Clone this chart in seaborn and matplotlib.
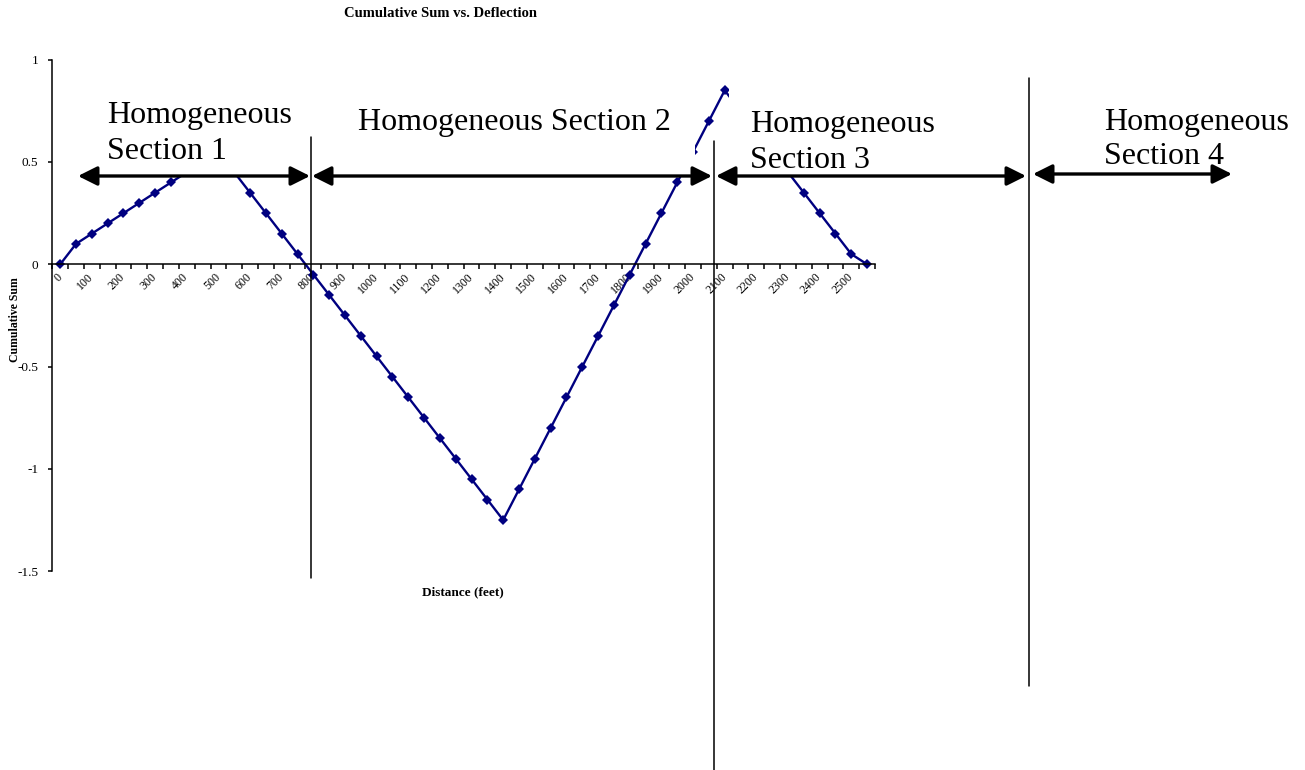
import matplotlib
matplotlib.use("Agg")
import matplotlib.pyplot as plt
import seaborn as sns
import pandas as pd
from matplotlib.patches import Rectangle, FancyArrowPatch
from matplotlib.lines import Line2D
from matplotlib.ticker import FixedLocator

# ==========================================
# DATA

distance = [0, 50, 100, 150, 200, 250, 300, 350, 400, 450,
            500, 550, 600, 650, 700, 750, 800, 850, 900, 950,
            1000, 1050, 1100, 1150, 1200, 1250, 1300, 1350, 1400, 1450,
            1500, 1550, 1600, 1650, 1700, 1750, 1800, 1850, 1900, 1950,
            2000, 2050, 2100, 2150, 2200, 2250, 2300, 2350, 2400, 2450,
            2500, 2550]

cusum = [0.0, 0.1, 0.15, 0.2, 0.25, 0.3, 0.35, 0.4, 0.45, 0.5,
         0.5, 0.45, 0.35, 0.25, 0.15, 0.05, -0.05, -0.15, -0.25, -0.35,
         -0.45, -0.55, -0.65, -0.75, -0.85, -0.95, -1.05, -1.15, -1.25, -1.1,
         -0.95, -0.8, -0.65, -0.5, -0.35, -0.2, -0.05, 0.1, 0.25, 0.4,
         0.55, 0.7, 0.85, 0.75, 0.65, 0.55, 0.45, 0.35, 0.25, 0.15,
         0.05, 0.0]

x_tick_labels = ["0", "100", "200", "300", "400", "500", "600", "700", "800",
                 "900", "1000", "1100", "1200", "1300", "1400", "1500", "1600",
                 "1700", "1800", "1900", "2000", "2100", "2200", "2300",
                 "2400", "2500"]
y_ticks = [-1.5, -1, -0.5, 0, 0.5, 1]
y_tick_labels = ["-1.5", "-1", "-0.5", "0", "0.5", "1"]

section_labels = [["Homogeneous", "Section 1"],
                  ["Homogeneous Section 2"],
                  ["Homogeneous", "Section 3"],
                  ["Homogeneous", "Section 4"]]

df = pd.DataFrame({"distance": distance, "cusum": cusum})

# ==========================================
# FIGURE

sns.set_style("ticks")
plt.rcParams['font.family'] = ['Liberation Serif', 'DejaVu Serif']
plt.rcParams['text.color'] = 'black'
plt.rcParams['xtick.color'] = 'black'
plt.rcParams['ytick.color'] = 'black'

W, H = 1305, 770
fig = plt.figure(figsize=(W / 100, H / 100), dpi=100)


def fx(x):
    return x / W


def fy(y):
    return 1 - y / H


ax = fig.add_axes([fx(52.3), fy(571.2), (875 - 52.3) / W, (571.2 - 59.7) / H])

sns.lineplot(
    data=df,
    x="distance",
    y="cusum",
    color="#000080",
    marker="D",
    markersize=5.2,
    markeredgewidth=0,
    linewidth=1.7,
    ax=ax
)

ax.set_xlim(-25, 2575)
ax.set_ylim(-1.5, 1)

ax.spines['top'].set_visible(False)
ax.spines['right'].set_visible(False)
ax.spines['bottom'].set_position(('data', 0))
for s in ['left', 'bottom']:
    ax.spines[s].set_linewidth(1.1)
    ax.spines[s].set_color('black')

label_pos = [distance[i] for i in range(0, len(distance), 2)]
ax.xaxis.set_major_locator(FixedLocator(label_pos))
ax.set_xticklabels(x_tick_labels, rotation=45, ha='right', va='center',
                   rotation_mode='anchor', fontsize=8.5)
ax.tick_params(axis='x', which='major', length=0, pad=8)
ax.xaxis.set_minor_locator(FixedLocator([d + 25 for d in distance] + [-25]))
ax.tick_params(axis='x', which='minor', length=3.5, width=1.1,
               direction='out', color='black')

ax.set_yticks(y_ticks)
ax.set_yticklabels(y_tick_labels, fontsize=9.5)
ax.tick_params(axis='y', length=3, width=1.1, direction='out', pad=7,
               color='black')

ax.set_xlabel("")
ax.set_ylabel("")

# white label boxes that hide parts of the line
for x0, y0, x1, y1 in [(100, 98, 297, 176), (320, 95, 695, 176),
                       (729, 85, 1000, 176)]:
    fig.add_artist(Rectangle((fx(x0), fy(y1)), (x1 - x0) / W, (y1 - y0) / H,
                             transform=fig.transFigure, facecolor='white',
                             edgecolor='none', zorder=1))

# vertical section boundaries
for x, y0, y1 in [(311, 137, 578), (714, 141, 770), (1029, 78, 686)]:
    fig.add_artist(Line2D([fx(x), fx(x)], [fy(y0), fy(y1)],
                          transform=fig.transFigure, color='black',
                          linewidth=1.1, zorder=3))

# double arrows
for xa, xb, y in [(78, 310, 176), (312, 712, 176), (716, 1026, 176),
                  (1033, 1232, 174)]:
    fig.add_artist(FancyArrowPatch((fx(xa), fy(y)), (fx(xb), fy(y)),
                                   transform=fig.transFigure,
                                   arrowstyle='<|-|>,head_length=0.4,head_width=0.2',
                                   mutation_scale=29, linewidth=2.4,
                                   color='black', shrinkA=0, shrinkB=0,
                                   zorder=3))

# section texts
for lines, x, baselines in zip(section_labels,
                               [107, 358, 750, 1104],
                               [[122.7, 159.3], [130], [131.7, 168.3],
                                [130, 164.3]]):
    for s, yb in zip(lines, baselines):
        fig.text(fx(x), fy(yb), s, fontsize=23, ha='left', va='baseline',
                 zorder=4)

fig.text(fx(441), fy(16.7), "Cumulative Sum vs. Deflection", fontsize=10.5,
         fontweight='bold', ha='center', va='baseline')
fig.text(fx(463), fy(595.5), "Distance (feet)", fontsize=9.5,
         fontweight='bold', ha='center', va='baseline')
fig.text(fx(15), fy(320), "Cumulative Sum", fontsize=8.5, fontweight='bold',
         rotation=90, ha='center', va='center')

plt.savefig("out.png", dpi=100)
